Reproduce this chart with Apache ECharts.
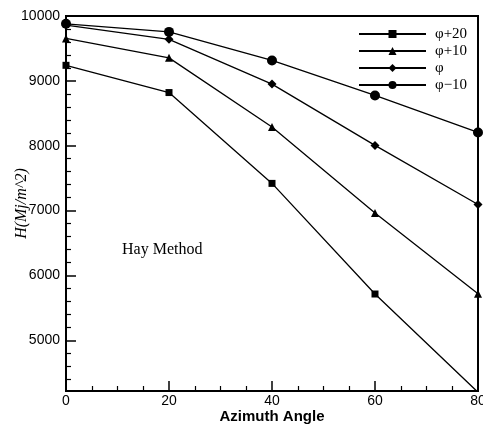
<!DOCTYPE html>
<html>
<head>
<meta charset="utf-8">
<script src="https://cdn.jsdelivr.net/npm/echarts@6/dist/echarts.min.js"></script>
<style>
html,body{margin:0;padding:0;background:#fff;}
#c{width:483px;height:425px;}
</style>
</head>
<body>
<div id="c"></div>
<script>
const angles = [0, 20, 40, 60, 80];
const seriesNames = ['φ+20', 'φ+10', 'φ', 'φ−10'];
const phiPlus20 = [9240, 8820, 7420, 5715, 4200];
const phiPlus10 = [9655, 9355, 8290, 6965, 5720];
const phi0 = [9860, 9640, 8950, 8005, 7095];
const phiMinus10 = [9880, 9755, 9315, 8775, 8205];
const yMajorTicks = [5000, 6000, 7000, 8000, 9000, 10000];
const yMinorTicks = [4400, 4600, 4800, 5200, 5400, 5600, 5800, 6200, 6400, 6600, 6800,
  7200, 7400, 7600, 7800, 8200, 8400, 8600, 8800, 9200, 9400, 9600, 9800];

const chart = echarts.init(document.getElementById('c'), null, {renderer: 'canvas'});
const symbols = ['rect', 'triangle', 'diamond', 'circle'];
const sizes = [7, 8, 9, 10];
const dataSets = [phiPlus20, phiPlus10, phi0, phiMinus10];

const series = dataSets.map((d, i) => ({
  name: seriesNames[i],
  type: 'line',
  data: angles.map((a, j) => [a, d[j]]),
  symbol: symbols[i],
  symbolSize: sizes[i],
  showAllSymbol: true,
  clip: true,
  lineStyle: {color: '#000', width: 1.3},
  itemStyle: {color: '#000'},
  emphasis: {disabled: true},
  z: 3
}));

chart.setOption({
  animation: false,
  backgroundColor: '#fff',
  grid: {left: 66, right: 5, top: 16, bottom: 34, outerBoundsMode: 'none', containLabel: false,
    show: true, borderColor: '#000', borderWidth: 2, backgroundColor: 'transparent'},
  legend: {
    left: 358, top: 26.5, padding: 0,
    orient: 'vertical',
    itemWidth: 67, itemHeight: 10, itemGap: 2,
    data: ['φ+20', 'φ+10', 'φ', 'φ−10'],
    textStyle: {fontFamily: 'Liberation Serif', fontSize: 15, lineHeight: 15, color: '#000', padding: [0, 0, 0, 4]},
    selectedMode: false
  },
  xAxis: {
    type: 'value', min: 0, max: 80, interval: 20,
    name: 'Azimuth Angle', nameLocation: 'middle', nameGap: 18, nameMoveOverlap: false,
    nameTextStyle: {fontFamily: 'Liberation Sans', fontWeight: 'bold', fontSize: 15, color: '#000'},
    axisLine: {lineStyle: {color: '#000', width: 2}},
    axisTick: {inside: true, length: 10, lineStyle: {color: '#000', width: 1.5}},
    minorTick: {show: true, splitNumber: 4, length: 5, lineStyle: {color: '#000', width: 1.2}},
    axisLabel: {fontFamily: 'Liberation Sans', fontSize: 14, color: '#000', margin: 3, showMaxLabel: true,
      formatter: v => String(v)},
    splitLine: {show: false}
  },
  yAxis: [{
    type: 'value', min: 4220, max: 10000,
    name: 'H(Mj/m^2)', nameLocation: 'middle', nameGap: 36, nameMoveOverlap: false,
    nameTextStyle: {fontFamily: 'Liberation Serif', fontStyle: 'italic', fontSize: 16, color: '#000'},
    axisLine: {lineStyle: {color: '#000', width: 2}},
    axisTick: {inside: true, length: 10, customValues: yMajorTicks, lineStyle: {color: '#000', width: 1.5}},
    axisLabel: {fontFamily: 'Liberation Sans', fontSize: 14, color: '#000', margin: 6, customValues: yMajorTicks,
      formatter: v => String(v)},
    splitLine: {show: false}
  }, {
    type: 'value', min: 4220, max: 10000, position: 'left', offset: 0,
    axisLine: {show: false},
    axisTick: {inside: true, length: 5, customValues: yMinorTicks, lineStyle: {color: '#000', width: 1.2}},
    axisLabel: {show: false},
    splitLine: {show: false}
  }],
  graphic: [{
    type: 'text', x: 122, y: 250,
    style: {text: 'Hay Method', fontFamily: 'Liberation Serif', fontSize: 16, fill: '#000', verticalAlign: 'middle'}
  }],
  series: series
});
</script>
</body>
</html>
